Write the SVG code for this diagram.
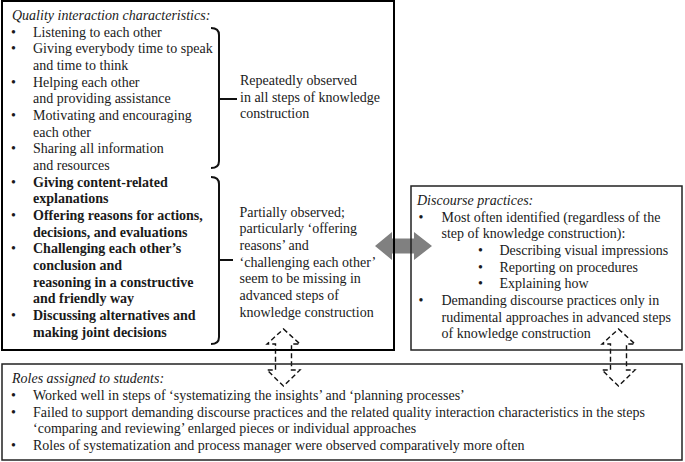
<svg xmlns="http://www.w3.org/2000/svg" width="685" height="462" viewBox="0 0 685 462">
<style>
text{font-family:"Liberation Serif","Times New Roman",serif;font-size:14px;fill:#1a1a1a}
.it{font-style:italic}
.b{font-weight:bold}
.box{fill:none;stroke:#222;stroke-width:1.5}
.main{fill:none;stroke:#000;stroke-width:2}
.br{fill:none;stroke:#111;stroke-width:2}
.dash{fill:none;stroke:#111;stroke-width:1.4;stroke-dasharray:5 3}
</style>
<rect x="0" y="0" width="685" height="462" fill="#fff"/>
<g id="connectors">
<polygon id="double-arrow" points="375,246 392,232 392,238.5 414,238.5 414,232 432,246 414,260 414,253.5 392,253.5 392,260" fill="#808080"/>
<path id="dashed-arrow-left" class="dash" d="M283.5,329 L300,344 L291.5,344 L291.5,370 L300,370 L283.5,386 L267,370 L275.5,370 L275.5,344 L267,344 Z"/>
<path id="dashed-arrow-right" class="dash" d="M618.5,329 L635,344 L626.5,344 L626.5,370 L635,370 L618.5,386 L602,370 L610.5,370 L610.5,344 L602,344 Z"/>
</g>
<g id="quality">
<rect class="main" x="2" y="1" width="392" height="349"/>
<text class="it" x="12" y="20">Quality interaction characteristics:</text>
<text x="11" y="36.7">•</text><text x="33" y="36.7">Listening to each other</text>
<text x="11" y="53.3">•</text><text x="33" y="53.3">Giving everybody time to speak</text>
<text x="33" y="70">and time to think</text>
<text x="11" y="86.7">•</text><text x="33" y="86.7">Helping each other</text>
<text x="33" y="103.3">and providing assistance</text>
<text x="11" y="120">•</text><text x="33" y="120">Motivating and encouraging</text>
<text x="33" y="136.7">each other</text>
<text x="11" y="153.3">•</text><text x="33" y="153.3">Sharing all information</text>
<text x="33" y="170">and resources</text>
<text x="11" y="186.7">•</text><text class="b" x="33" y="186.7">Giving content-related</text>
<text class="b" x="33" y="203.3">explanations</text>
<text x="11" y="220">•</text><text class="b" x="33" y="220">Offering reasons for actions,</text>
<text class="b" x="33" y="236.7">decisions, and evaluations</text>
<text x="11" y="253.3">•</text><text class="b" x="33" y="253.3">Challenging each other’s</text>
<text class="b" x="33" y="270">conclusion and</text>
<text class="b" x="33" y="286.7">reasoning in a constructive</text>
<text class="b" x="33" y="303.3">and friendly way</text>
<text x="11" y="320">•</text><text class="b" x="33" y="320">Discussing alternatives and</text>
<text class="b" x="33" y="336.7">making joint decisions</text>
<path class="br" d="M211,28 Q219,28 219,35 V161 Q219,168 211,168 M219,99 H237"/>
<path class="br" d="M211,177 Q219,177 219,184 V337 Q219,344 211,344 M219,260 H233"/>
<text x="240" y="85">Repeatedly observed</text>
<text x="240" y="101.7">in all steps of knowledge</text>
<text x="240" y="118.3">construction</text>
<text x="239.5" y="216.7">Partially observed;</text>
<text x="239.5" y="233.3">particularly ‘offering</text>
<text x="239.5" y="250">reasons’ and</text>
<text x="239.5" y="266.7">‘challenging each other’</text>
<text x="239.5" y="283.3">seem to be missing in</text>
<text x="239.5" y="300">advanced steps of</text>
<text x="239.5" y="316.7">knowledge construction</text>
</g>
<g id="discourse">
<rect class="box" x="411" y="186" width="271" height="164"/>
<text class="it" x="417" y="205">Discourse practices:</text>
<text x="418.5" y="221.7">•</text><text x="441.5" y="221.7">Most often identified (regardless of the</text>
<text x="441.5" y="238.3">step of knowledge construction):</text>
<text x="478" y="255">•</text><text x="499.5" y="255">Describing visual impressions</text>
<text x="478" y="271.7">•</text><text x="499.5" y="271.7">Reporting on procedures</text>
<text x="478" y="288.3">•</text><text x="499.5" y="288.3">Explaining how</text>
<text x="418.5" y="305">•</text><text x="441.5" y="305">Demanding discourse practices only in</text>
<text x="441.5" y="321.7">rudimental approaches in advanced steps</text>
<text x="441.5" y="338.3">of knowledge construction</text>
</g>
<g id="roles">
<rect class="box" x="2" y="364" width="680" height="96"/>
<text class="it" x="12" y="383.3">Roles assigned to students:</text>
<text x="11" y="400">•</text><text x="33" y="400">Worked well in steps of ‘systematizing the insights’ and ‘planning processes’</text>
<text x="11" y="416.7">•</text><text x="33" y="416.7">Failed to support demanding discourse practices and the related quality interaction characteristics in the steps</text>
<text x="33" y="433.3">‘comparing and reviewing’ enlarged pieces or individual approaches</text>
<text x="11" y="450">•</text><text x="33" y="450">Roles of systematization and process manager were observed comparatively more often</text>
</g>
</svg>
